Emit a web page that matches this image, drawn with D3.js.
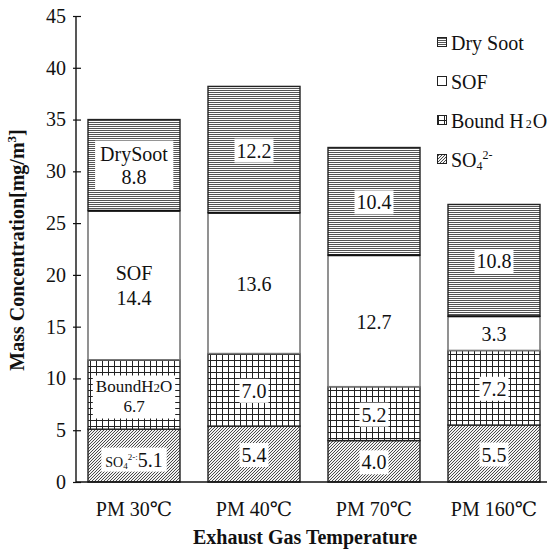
<!DOCTYPE html>
<html>
<head>
<meta charset="utf-8">
<script src="https://cdn.jsdelivr.net/npm/d3@7/dist/d3.min.js"></script>
<style>
  html, body { margin: 0; padding: 0; background: #fff; }
  svg { display: block; }
  svg text, svg tspan { font-family: "Liberation Serif", Tinos, "Times New Roman", "DejaVu Serif", serif !important; fill: #111; }
</style>
</head>
<body>
<svg id="chart" width="547" height="550"></svg>
<script>
// ---- data ----
const categories = ["PM 30℃", "PM 40℃", "PM 70℃", "PM 160℃"];
const so4       = [5.1, 5.4, 4.0, 5.5];
const boundH2O  = [6.7, 7.0, 5.2, 7.2];
const sof       = [14.4, 13.6, 12.7, 3.3];
const drySoot   = [8.8, 12.2, 10.4, 10.8];
const yTicks    = [0, 5, 10, 15, 20, 25, 30, 35, 40, 45];
const seriesKeys = ["so4", "bound", "sof", "dry"];

const svg = d3.select("#chart");
const W = 547, H = 550;
const FONT = '"Liberation Serif", Tinos, "Times New Roman", "DejaVu Serif", serif';

// ---- patterns ----
const defs = svg.append("defs");
const pH = defs.append("pattern").attr("id", "pHoriz").attr("patternUnits", "userSpaceOnUse")
  .attr("width", 4).attr("height", 2);
pH.append("rect").attr("width", 4).attr("height", 2).attr("fill", "#fff");
pH.append("rect").attr("width", 4).attr("height", 1).attr("fill", "#555");

const pG = defs.append("pattern").attr("id", "pGrid").attr("patternUnits", "userSpaceOnUse")
  .attr("width", 6).attr("height", 6);
pG.append("rect").attr("width", 6).attr("height", 6).attr("fill", "#fff");
pG.append("rect").attr("width", 6).attr("height", 1).attr("fill", "#222");
pG.append("rect").attr("width", 1).attr("height", 6).attr("fill", "#222");

const pD = defs.append("pattern").attr("id", "pDiag").attr("patternUnits", "userSpaceOnUse")
  .attr("width", 3).attr("height", 3);
pD.append("rect").attr("width", 3).attr("height", 3).attr("fill", "#f2f2f2");
[[0, 2], [1, 1], [2, 0]].forEach(([px, py]) =>
  pD.append("rect").attr("x", px).attr("y", py).attr("width", 1).attr("height", 1).attr("fill", "#4a4a4a"));

const fillOf = { so4: "url(#pDiag)", bound: "url(#pGrid)", sof: "#fff", dry: "url(#pHoriz)" };

// ---- scales ----
const x = d3.scaleBand().domain(categories).range([76, 552]).paddingInner(0.2333).paddingOuter(0.1);
const y = d3.scaleLinear().domain([0, 45]).range([482, 16]);

// ---- stacked data ----
const table = categories.map((c, i) => ({ cat: c, so4: so4[i], bound: boundH2O[i], sof: sof[i], dry: drySoot[i] }));
const stacked = d3.stack().keys(seriesKeys)(table);

const gBars = svg.append("g");
stacked.forEach(layer => {
  const key = layer.key;
  gBars.selectAll(null).data(layer).join("rect")
    .attr("x", d => x(d.data.cat))
    .attr("width", x.bandwidth())
    .attr("y", d => y(d[1]))
    .attr("height", d => y(d[0]) - y(d[1]))
    .attr("fill", fillOf[key])
    .attr("stroke", key === "sof" ? "#777" : "#222")
    .attr("stroke-width", key === "sof" ? 1.6 : 1.4);
});
gBars.selectAll(null).data(stacked[3]).join("line")
  .attr("x1", d => x(d.data.cat)).attr("x2", d => x(d.data.cat) + x.bandwidth())
  .attr("y1", d => y(d[0])).attr("y2", d => y(d[0]))
  .attr("stroke", "#111").attr("stroke-width", 2);

// ---- labels ----
const gLab = svg.append("g");
function addLabel(cx, cy, lines, padX, padY) {
  const g = gLab.append("g");
  const t = g.append("text").attr("text-anchor", "middle").attr("font-family", FONT);
  const n = lines.length;
  lines.forEach((ln, li) => {
    const lt = t.append("tspan").attr("x", cx)
      .attr("y", cy + (li - (n - 1) / 2) * ln.gap + ln.base);
    ln.parts.forEach(p => {
      const s = lt.append("tspan").attr("font-size", p.size).text(p.text);
      if (p.shift) s.attr("dy", p.shift);
    });
  });
  const bb = t.node().getBBox();
  g.insert("rect", "text")
    .attr("x", bb.x - padX).attr("y", bb.y - padY)
    .attr("width", bb.width + 2 * padX).attr("height", bb.height + 2 * padY)
    .attr("fill", "#fff");
}

stacked.forEach(layer => {
  layer.forEach((d, i) => {
    const cx = x(d.data.cat) + x.bandwidth() / 2;
    const cy = y((d[0] + d[1]) / 2);
    const v = (d[1] - d[0]).toFixed(1);
    const key = layer.key;
    if (i === 0) {
      if (key === "dry") {
        addLabel(cx, cy, [
          { gap: 23, base: 7, parts: [{ text: "DrySoot", size: 20 }] },
          { gap: 23, base: 7, parts: [{ text: v, size: 20 }] }], 5, 2);
      } else if (key === "sof") {
        addLabel(cx, cy, [
          { gap: 25, base: 7, parts: [{ text: "SOF", size: 20 }] },
          { gap: 25, base: 7, parts: [{ text: v, size: 20 }] }], 4, 2);
      } else if (key === "bound") {
        addLabel(cx, cy + 2, [
          { gap: 20, base: 6, parts: [{ text: "BoundH", size: 17 }, { text: "2", size: 13 }, { text: "O", size: 17 }] },
          { gap: 20, base: 6, parts: [{ text: v, size: 17 }] }], 3, 2);
      } else {
        addLabel(cx, cy + 2, [
          { gap: 0, base: 9, parts: [
            { text: "SO", size: 14 },
            { text: "4", size: 9, shift: 2 },
            { text: "2-:", size: 9, shift: -9 },
            { text: v, size: 20, shift: 7 }] }], 4, 1);
      }
    } else {
      addLabel(cx, cy + 1, [{ gap: 0, base: 7, parts: [{ text: v, size: 20 }] }], 2, 1);
    }
  });
});

// ---- axes ----
const gAx = svg.append("g");
gAx.append("line").attr("x1", 76).attr("x2", W).attr("y1", y(0)).attr("y2", y(0))
  .attr("stroke", "#111").attr("stroke-width", 1.6);
gAx.append("line").attr("x1", 76).attr("x2", 76).attr("y1", y(0)).attr("y2", y(45))
  .attr("stroke", "#111").attr("stroke-width", 1.4);
const yAxis = d3.axisLeft(y).tickValues(yTicks).tickSize(0).tickPadding(0);
const ya = svg.append("g").attr("transform", "translate(76,0)").call(yAxis);
ya.attr("font-family", FONT);
ya.select(".domain").remove();
ya.selectAll(".tick text").attr("x", -10).attr("font-size", 20).attr("fill", "#111");
ya.selectAll(".tick").append("line").attr("x1", -3).attr("x2", 5).attr("stroke", "#111").attr("stroke-width", 1.2);

const xAxis = d3.axisBottom(x).tickSize(0).tickPadding(0);
const xa = svg.append("g").attr("transform", `translate(0,${y(0)})`).call(xAxis);
xa.attr("font-family", FONT);
xa.select(".domain").remove();
xa.selectAll(".tick text").attr("y", 20).attr("font-size", 20).attr("fill", "#111");

const yt = svg.append("text").attr("transform", "translate(24,250) rotate(-90)")
  .attr("text-anchor", "middle").attr("font-weight", "bold").attr("font-size", 20).attr("font-family", FONT);
yt.append("tspan").text("Mass Concentration[mg/m");
yt.append("tspan").attr("font-size", 13).attr("dy", -8).text("3");
yt.append("tspan").attr("dy", 8).text("]");

svg.append("text").attr("x", 305).attr("y", 544).attr("font-family", FONT)
  .attr("text-anchor", "middle").attr("font-weight", "bold").attr("font-size", 20)
  .text("Exhaust Gas Temperature");

// ---- legend ----
const legendRows = [
  { key: "dry", y: 43 },
  { key: "sof", y: 82 },
  { key: "bound", y: 121 },
  { key: "so4", y: 160 }
];
const gLeg = svg.append("g");
legendRows.forEach(r => {
  gLeg.append("rect").attr("x", 437.5).attr("y", r.y - 5.5).attr("width", 9).attr("height", 9)
    .attr("fill", fillOf[r.key]).attr("stroke", "#222").attr("stroke-width", 1);
  const t = gLeg.append("text").attr("x", 451).attr("y", r.y + 7).attr("font-size", 20).attr("font-family", FONT);
  if (r.key === "dry") t.text("Dry Soot");
  else if (r.key === "sof") t.text("SOF");
  else if (r.key === "bound") {
    t.append("tspan").text("Bound H");
    t.append("tspan").attr("font-size", 12).attr("dx", 2).text("2");
    t.append("tspan").attr("dx", 1).text("O");
  } else {
    t.append("tspan").text("SO");
    t.append("tspan").attr("font-size", 12).attr("dy", 3).text("4");
    t.append("tspan").attr("font-size", 12).attr("dy", -11).text("2-");
  }
});
</script>
</body>
</html>
